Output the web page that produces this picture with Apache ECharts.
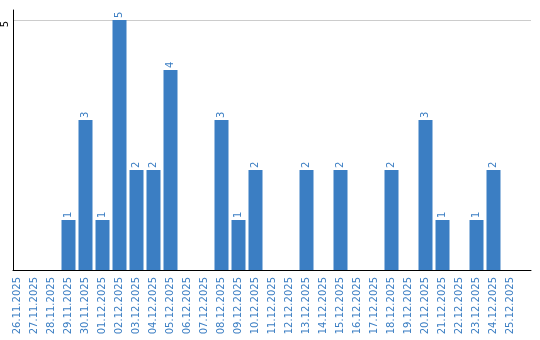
<!DOCTYPE html>
<html><head><meta charset="utf-8">
<script src="https://cdn.jsdelivr.net/npm/echarts@6/dist/echarts.min.js"></script>
<style>html,body{margin:0;padding:0;background:#fff}#c{width:540px;height:340px}</style>
</head><body><div id="c"></div>
<script>
var categories = ['26.11.2025','27.11.2025','28.11.2025','29.11.2025','30.11.2025','01.12.2025','02.12.2025','03.12.2025','04.12.2025','05.12.2025','06.12.2025','07.12.2025','08.12.2025','09.12.2025','10.12.2025','11.12.2025','12.12.2025','13.12.2025','14.12.2025','15.12.2025','16.12.2025','17.12.2025','18.12.2025','19.12.2025','20.12.2025','21.12.2025','22.12.2025','23.12.2025','24.12.2025','25.12.2025'];
var values = [0,0,0,1,3,1,5,2,2,4,0,0,3,1,2,0,0,2,0,2,0,0,2,0,3,1,0,1,2,0];
var yTickLabels = [5];

var blue = '#3b7ec3';
var font = 'DejaVu Sans';
var chart = echarts.init(document.getElementById('c'), null, {renderer:'canvas'});
chart.setOption({
  animation: false,
  grid: [
    {left: 10, right: 9, top: 10, bottom: 70},
    {left: 9, width: 510, top: 10, bottom: 70}
  ],
  xAxis: [
    {gridIndex: 0, type: 'value', min: 0, max: 1, axisLine: {show: true, onZero: false, lineStyle: {color: '#000', width: 1}}, axisTick: {show: false}, axisLabel: {show: false}, splitLine: {show: false}},
    {gridIndex: 1, type: 'category', data: categories, axisLine: {show: false}, axisTick: {show: false},
     axisLabel: {rotate: 90, interval: 0, color: blue, fontFamily: font, fontSize: 10, margin: 7}}
  ],
  yAxis: [
    {gridIndex: 0, type: 'value', min: 0, max: 5.2, interval: 5,
     axisLine: {show: true, lineStyle: {color: '#000', width: 1}}, axisTick: {show: false},
     axisLabel: {rotate: 90, color: '#000', fontFamily: font, fontSize: 10, margin: 3, padding: [0, 8, 0, 0],
       formatter: function(v){ return yTickLabels.indexOf(v) >= 0 ? String(v) : ''; }},
     splitLine: {show: true, showMinLine: false, showMaxLine: false, lineStyle: {color: '#cccccc', width: 1}}},
    {gridIndex: 1, type: 'value', min: 0, max: 5.2, show: false}
  ],
  series: [{
    type: 'bar', xAxisIndex: 1, yAxisIndex: 1, data: values, barWidth: 14,
    itemStyle: {color: blue},
    label: {show: true, position: 'top', rotate: 90, align: 'left', verticalAlign: 'middle', distance: 2,
      color: blue, fontFamily: font, fontSize: 10,
      formatter: function(p){ return p.value ? String(p.value) : ''; }}
  }]
});
</script></body></html>
